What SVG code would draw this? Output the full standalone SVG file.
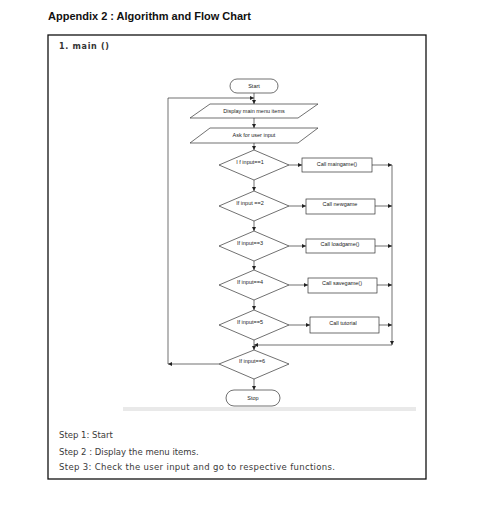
<svg xmlns="http://www.w3.org/2000/svg" width="488" height="519" viewBox="0 0 488 519">
<style>
.s{fill:#fff;stroke:#333;stroke-width:0.7}
.c{fill:none;stroke:#333;stroke-width:0.7}
.t{font-family:"Liberation Sans",Arial,sans-serif;font-size:5.5px;fill:#222;text-anchor:middle}
.st{font-family:"DejaVu Sans",Verdana,sans-serif;font-size:8.5px;fill:#3a3a3a}
</style>
<defs>
<marker id="a" viewBox="0 0 6 6" refX="6" refY="3" markerWidth="4" markerHeight="4" orient="auto" markerUnits="userSpaceOnUse">
<path d="M0,0 L6,3 L0,6 z" fill="#222"/>
</marker>
</defs>
<rect width="488" height="519" fill="#fff"/>
<text x="48" y="20" font-family="'Liberation Sans',Arial,sans-serif" font-size="11" font-weight="bold" fill="#111" textLength="203">Appendix 2 : Algorithm and Flow Chart</text>
<rect x="48" y="35" width="378" height="444" fill="none" stroke="#111" stroke-width="1.3"/>
<text x="59" y="49" font-family="'DejaVu Sans',Verdana,sans-serif" font-size="8" font-weight="bold" fill="#333" textLength="50">1. main ()</text>
<rect x="123" y="407" width="293" height="4" fill="#e9e9e9"/>
<text class="st" x="59" y="438">Step 1: Start</text>
<text class="st" x="59" y="455">Step 2 : Display the menu items.</text>
<text class="st" x="59" y="470" textLength="276">Step 3: Check the user input and go to respective functions.</text>

<g id="connectors">
<line class="c" x1="254" y1="93" x2="254" y2="104" marker-end="url(#a)"/>
<line class="c" x1="254" y1="118" x2="254" y2="128" marker-end="url(#a)"/>
<line class="c" x1="254" y1="143" x2="254" y2="150" marker-end="url(#a)"/>
<line class="c" x1="254" y1="180" x2="254" y2="191" marker-end="url(#a)"/>
<line class="c" x1="254" y1="221" x2="254" y2="231" marker-end="url(#a)"/>
<line class="c" x1="254" y1="261" x2="254" y2="270" marker-end="url(#a)"/>
<line class="c" x1="254" y1="300" x2="254" y2="310" marker-end="url(#a)"/>
<line class="c" x1="254" y1="340" x2="254" y2="350" marker-end="url(#a)"/>
<line class="c" x1="254" y1="379" x2="254" y2="390" marker-end="url(#a)"/>
<line class="c" x1="289" y1="165" x2="302" y2="165" marker-end="url(#a)"/>
<line class="c" x1="289" y1="206" x2="306" y2="206" marker-end="url(#a)"/>
<line class="c" x1="289" y1="246" x2="306" y2="246" marker-end="url(#a)"/>
<line class="c" x1="289" y1="285" x2="308" y2="285" marker-end="url(#a)"/>
<line class="c" x1="289" y1="325" x2="310" y2="325" marker-end="url(#a)"/>
<line class="c" x1="372" y1="165" x2="392" y2="165" marker-end="url(#a)"/>
<line class="c" x1="375" y1="206" x2="392" y2="206" marker-end="url(#a)"/>
<line class="c" x1="375" y1="246" x2="392" y2="246" marker-end="url(#a)"/>
<line class="c" x1="377" y1="285" x2="392" y2="285" marker-end="url(#a)"/>
<line class="c" x1="379" y1="325" x2="392" y2="325" marker-end="url(#a)"/>
<line class="c" x1="392" y1="165" x2="392" y2="345" marker-end="url(#a)"/>
<line class="c" x1="392" y1="345" x2="254" y2="345" marker-end="url(#a)"/>
<line class="c" x1="219" y1="364" x2="168" y2="364" marker-end="url(#a)"/>
<path class="c" d="M168,364 V98 H254" marker-end="url(#a)"/>
</g>

<g id="start"><rect class="s" x="230" y="79" width="48" height="14" rx="7"/><text class="t" x="254" y="88">Start</text></g>
<g id="display"><polygon class="s" points="210,104 318,104 298,118 190,118"/><text class="t" x="254" y="113">Display main menu items</text></g>
<g id="ask"><polygon class="s" points="210,128 318,128 298,143 190,143"/><text class="t" x="254" y="137">Ask for user input</text></g>
<g id="d1"><polygon class="s" points="254,150 289,165 254,180 219,165"/><text class="t" x="250" y="164">I f input==1</text></g>
<g id="d2"><polygon class="s" points="254,191 289,206 254,221 219,206"/><text class="t" x="250" y="205">If input ==2</text></g>
<g id="d3"><polygon class="s" points="254,231 289,246 254,261 219,246"/><text class="t" x="250" y="245">If input==3</text></g>
<g id="d4"><polygon class="s" points="254,270 289,285 254,300 219,285"/><text class="t" x="250" y="284">If input==4</text></g>
<g id="d5"><polygon class="s" points="254,310 289,325 254,340 219,325"/><text class="t" x="250" y="324">If input==5</text></g>
<g id="d6"><polygon class="s" points="254,350 289,364 254,379 219,364"/><text class="t" x="252" y="363">If input==6</text></g>
<g id="b1"><rect class="s" x="302" y="158" width="70" height="14"/><text class="t" x="337" y="166">Call maingame()</text></g>
<g id="b2"><rect class="s" x="306" y="199" width="69" height="15"/><text class="t" x="340" y="206">Call newgame</text></g>
<g id="b3"><rect class="s" x="306" y="239" width="69" height="14"/><text class="t" x="340" y="246">Call loadgame()</text></g>
<g id="b4"><rect class="s" x="308" y="278" width="69" height="15"/><text class="t" x="342" y="285">Call savegame()</text></g>
<g id="b5"><rect class="s" x="310" y="317" width="69" height="16"/><text class="t" x="343" y="325">Call tutorial</text></g>
<g id="stop"><rect class="s" x="226" y="390" width="54" height="16" rx="8"/><text class="t" x="253" y="400">Stop</text></g>
</svg>
